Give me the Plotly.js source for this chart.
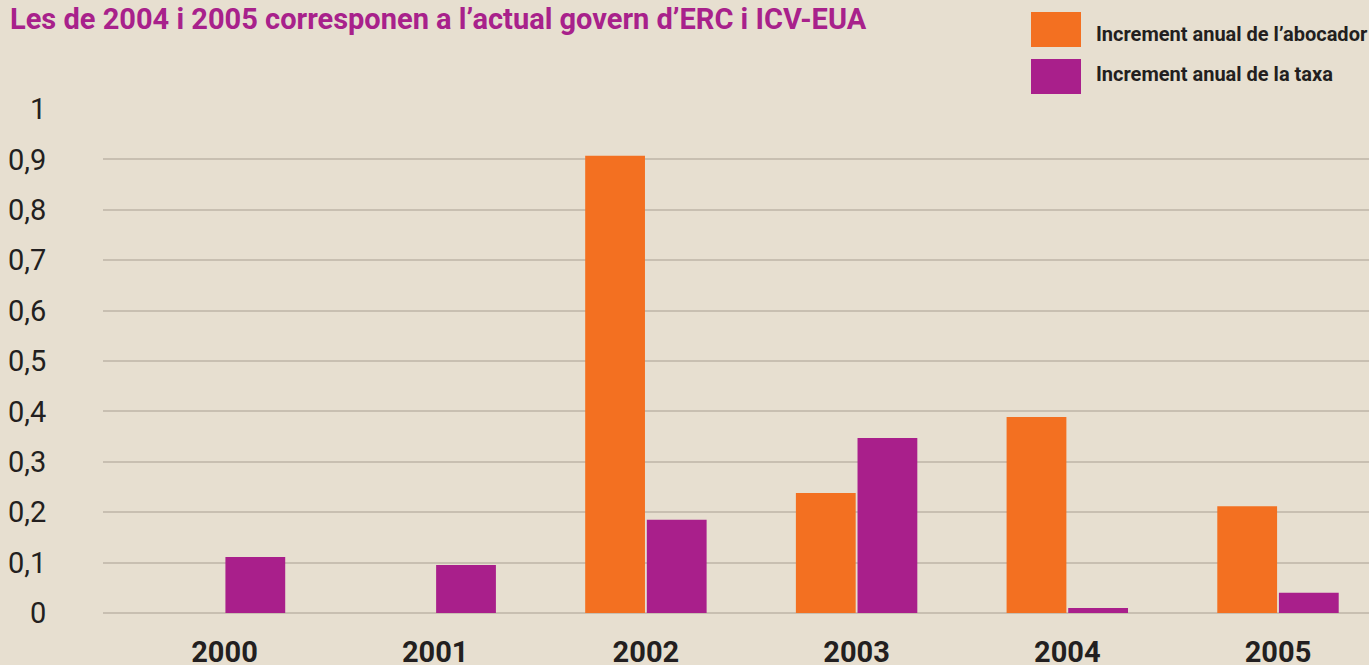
<!DOCTYPE html>
<html>
<head>
<meta charset="utf-8">
<script src="https://cdn.plot.ly/plotly-3.0.1.min.js"></script>
<style>
html,body{margin:0;padding:0;background:#e7dfd0;overflow:hidden;}
#chart{width:1369px;height:665px;}
</style>
</head>
<body>
<div id="chart"></div>
<script>
// Data
const years = ['2000', '2001', '2002', '2003', '2004', '2005'];
const abocador = [0, 0, 0.907, 0.238, 0.389, 0.212];
const taxa = [0.111, 0.095, 0.185, 0.347, 0.010, 0.040];
const yTickVals = [0, 0.1, 0.2, 0.3, 0.4, 0.5, 0.6, 0.7, 0.8, 0.9, 1];
const yTickText = ['0', '0,1', '0,2', '0,3', '0,4', '0,5', '0,6', '0,7', '0,8', '0,9', '1'];
const seriesNames = ['Increment anual de l’abocador', 'Increment anual de la taxa'];
const titleText = 'Les de 2004 i 2005 corresponen a l’actual govern d’ERC i ICV-EUA';

const ORANGE = '#f37021';
const PURPLE = '#a91f8b';
const BG = '#e7dfd0';

// plot area in pixels
const L = 103, R = 1369, T = 109, B = 613;
const W = 1369, H = 665;
const px2x = p => (p - L) / (R - L);
const py2y = p => (B - p) / (B - T);

const traces = [
  {type: 'bar', x: years, y: abocador, name: seriesNames[0],
   marker: {color: ORANGE, line: {width: 0}}, hoverinfo: 'x+y'},
  {type: 'bar', x: years, y: taxa, name: seriesNames[1],
   marker: {color: PURPLE, line: {width: 0}}, hoverinfo: 'x+y'}
];

const legendShapes = [
  {type: 'rect', xref: 'paper', yref: 'paper', x0: px2x(1031), x1: px2x(1081), y0: py2y(47), y1: py2y(12),
   fillcolor: ORANGE, line: {width: 0}},
  {type: 'rect', xref: 'paper', yref: 'paper', x0: px2x(1031), x1: px2x(1081), y0: py2y(94), y1: py2y(59),
   fillcolor: PURPLE, line: {width: 0}}
];

const legendFont = {family: 'Roboto', size: 20, color: '#231f20', weight: 700};
const annotations = [
  {xref: 'paper', yref: 'paper', x: px2x(1094), y: py2y(34), xanchor: 'left', yanchor: 'middle',
   text: '<b>' + seriesNames[0] + '</b>', showarrow: false, font: legendFont},
  {xref: 'paper', yref: 'paper', x: px2x(1094), y: py2y(74), xanchor: 'left', yanchor: 'middle',
   text: '<b>' + seriesNames[1] + '</b>', showarrow: false, font: legendFont}
];

const layout = {
  width: W, height: H,
  margin: {l: L, r: W - R, t: T, b: H - B, pad: 0},
  paper_bgcolor: BG, plot_bgcolor: BG,
  showlegend: false,
  barmode: 'group',
  bargap: 0.415,
  bargroupgap: 0.03,
  title: {
    text: '<b>' + titleText + '</b>',
    x: 10 / W, xanchor: 'left', xref: 'container',
    y: 1 - 19 / H, yanchor: 'middle', yref: 'container',
    font: {family: 'Roboto', size: 29, color: '#a8218b'}
  },
  xaxis: {
    type: 'category',
    range: [(L - 224.5) / 210.7, (R - 224.5) / 210.7],
    showgrid: false, zeroline: false, showline: false,
    ticks: 'outside', ticklen: 13, tickcolor: 'rgba(0,0,0,0)',
    tickfont: {family: 'Roboto', size: 29, color: '#231f20', weight: 700},
    fixedrange: true
  },
  yaxis: {
    range: [0, 1],
    tickvals: yTickVals, ticktext: yTickText,
    showgrid: true, gridcolor: '#c8bfb1', gridwidth: 2,
    zeroline: true, zerolinecolor: '#c8bfb1', zerolinewidth: 2,
    showline: false,
    ticks: 'outside', ticklen: 50, tickcolor: 'rgba(0,0,0,0)',
    tickfont: {family: 'Roboto', size: 29, color: '#231f20'},
    fixedrange: true
  },
  shapes: legendShapes,
  annotations: annotations
};

Plotly.newPlot('chart', traces, layout, {displayModeBar: false, staticPlot: true});
</script>
</body>
</html>
